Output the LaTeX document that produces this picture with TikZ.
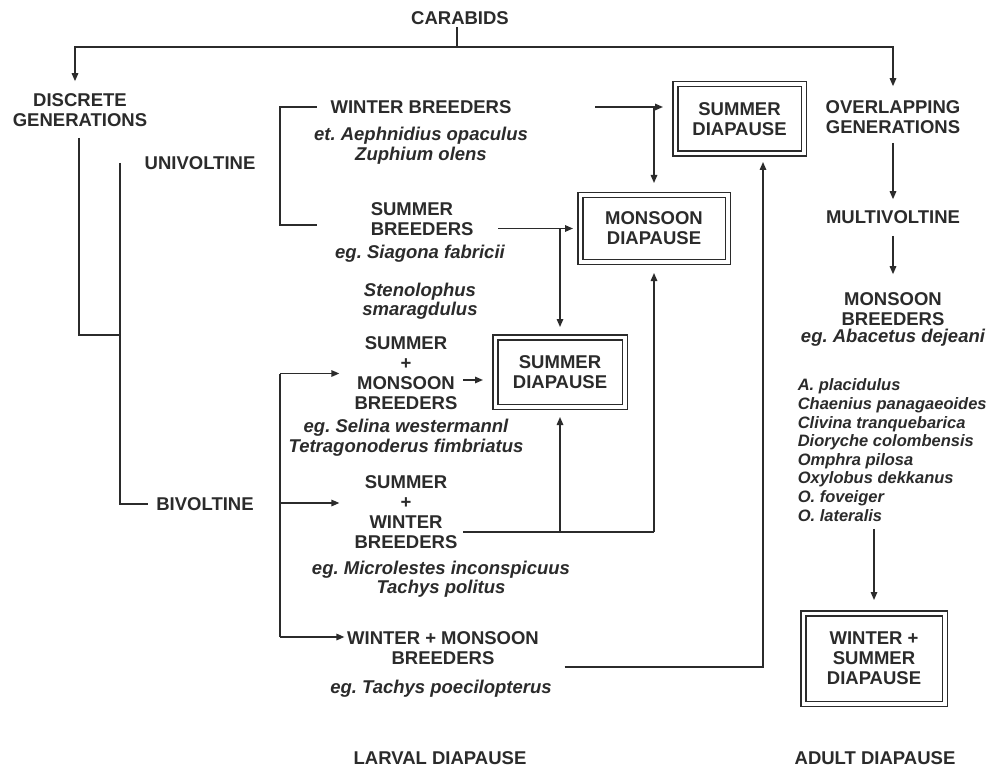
\documentclass[tikz,border=0pt]{standalone}
\usepackage{fontspec}
\setmainfont{Liberation Sans}
\usepackage{tikz}
\usetikzlibrary{arrows.meta}
\definecolor{ink}{HTML}{2B2B2B}
\frenchspacing

\begin{document}
\begin{tikzpicture}[x=1pt, y=-1pt, ink, line width=1.5pt,
  caps/.style={inner sep=2pt, align=center, font=\fontsize{18.5}{20}\selectfont\bfseries},
  spc/.style={inner sep=2pt, align=center, font=\fontsize{18.5}{19.5}\selectfont\bfseries\itshape},
  dbox/.style={draw, double, double distance=3.5pt, line width=1.5pt, outer sep=3.25pt, inner sep=0pt, align=center, font=\fontsize{18.5}{20}\selectfont\bfseries},
  arr/.style={-{Triangle[length=8pt,width=6.5pt]}}]
\fill[white] (0,0) rectangle (990,770);
\useasboundingbox (0,0) rectangle (990,770);

\node[caps] (carab) at (460,18) {CARABIDS};
\node[caps] (disc) at (80,110) {DISCRETE\\GENERATIONS};
\node[caps] (overl) at (893,117) {OVERLAPPING\\GENERATIONS};
\node[caps] (multi) at (893,217) {MULTIVOLTINE};
\node[caps] (monb) at (893,309) {MONSOON\\BREEDERS};
\node[spc] (monbeg) at (893,338) {eg. Abacetus dejeani};
\node[spc, align=left, anchor=west, font=\fontsize{16.5}{18.6}\selectfont\bfseries\itshape] (list) at (795,450) {A. placidulus\\Chaenius panagaeoides\\Clivina tranquebarica\\Dioryche colombensis\\Omphra pilosa\\Oxylobus dekkanus\\O. foveiger\\O. lateralis};
\node[caps] (univ) at (200,163) {UNIVOLTINE};
\node[caps] (bivol) at (205,504) {BIVOLTINE};
\node[caps] (wb) at (421,107) {WINTER BREEDERS};
\node[spc] (wbeg) at (421,145.5) {et. Aephnidius opaculus\\Zuphium olens};
\node[caps, align=left, anchor=west] (sb) at (368,219) {SUMMER\\BREEDERS};
\node[spc] (sbeg) at (420,254) {eg. Siagona fabricii};
\node[spc] (steno) at (420,301) {Stenolophus\\smaragdulus};
\node[caps] (smb) at (406,373.5) {SUMMER\\+\\MONSOON\\BREEDERS};
\node[spc] (smbeg) at (406,437.5) {eg. Selina westermannl\\Tetragonoderus fimbriatus};
\node[caps] (swb) at (406,512.5) {SUMMER\\+\\WINTER\\BREEDERS};
\node[spc] (swbeg) at (441,579) {eg. Microlestes inconspicuus\\Tachys politus};
\node[caps] (wmb) at (443,648.5) {WINTER + MONSOON\\BREEDERS};
\node[spc] (wmbeg) at (441,689) {eg. Tachys poecilopterus};
\node[caps] (larval) at (440,758) {LARVAL DIAPAUSE};
\node[caps] (adult) at (875,758) {ADULT DIAPAUSE};

\node[dbox, minimum width=128.5pt, minimum height=69.5pt] (sd1) at (739.5,119) {SUMMER\\DIAPAUSE};
\node[dbox, minimum width=147.5pt, minimum height=66.5pt] (md) at (654,228.5) {MONSOON\\DIAPAUSE};
\node[dbox, minimum width=129.5pt, minimum height=69.5pt] (sd2) at (560,372) {SUMMER\\DIAPAUSE};
\node[dbox, minimum width=141.5pt, minimum height=90.5pt] (ws) at (874,658.5) {WINTER +\\SUMMER\\DIAPAUSE};

\coordinate (split) at (457,47);
\coordinate (vjoin) at (121,335);
\coordinate (bv) at (280,503);
\coordinate (smbr) at ([yshift=-6.5pt]smb.east);
\coordinate (swbr) at ([yshift=-19.5pt]swb.east);
\coordinate (wmbr) at ([yshift=-18.5pt]wmb.east);
\coordinate (swbl) at ([yshift=9.5pt]swb.west);
\coordinate (wmbl) at ([yshift=11.5pt]wmb.west);

\draw (split |- carab.south) -- (split);
\draw[arr, shorten >=9.5pt] (split) -| ([xshift=-5pt]disc.north);
\draw[arr, shorten >=11.5pt] (split) -| (overl.north);
\draw[arr, shorten <=6.5pt, shorten >=8.5pt] (overl.south) -- (multi.north);
\draw[arr, shorten <=9.5pt, shorten >=15.5pt] (multi.south) -- (monb.north);
\draw[arr, shorten <=5pt, shorten >=10pt] (ws.north |- list.south) -- (ws.north);

\draw[shorten <=8.5pt] ([xshift=-1pt]disc.south) |- (vjoin);
\draw ([xshift=-22pt]univ.west) |- ([xshift=-6pt]bivol.west);
\draw ([xshift=-11pt]wb.west) -- ++(-37pt,0) |- ([xshift=-51pt,yshift=-6pt]sb.west);

\draw[arr, shorten <=81pt, shorten >=9pt] (wb.east) -- (wb.east -| sd1.west);
\draw[arr, shorten >=9pt] (wb.east -| md.north) -- (md.north);
\draw[arr, shorten <=22pt, shorten >=4pt] (sb.east |- md.west) -- (md.west);
\draw[arr, shorten >=7pt] (sd2.north |- md.west) -- (sd2.north);
\draw[arr, shorten <=3pt, shorten >=9pt] (smbr) -- (smbr -| sd2.west);
\draw[shorten <=3pt] (swbr) -- (swbr -| md.south);
\draw[arr, shorten >=7pt] (swbr -| sd2.south) -- (sd2.south);
\draw[arr, shorten >=8pt] (swbr -| md.south) -- (md.south);
\draw[arr, shorten <=23pt, shorten >=5pt] (wmbr) -| ([xshift=23.5pt]sd1.south);

\draw (bv |- smb.west) -- (bv |- wmbl);
\foreach \t/\s in {smb.west/12.5pt, swbl/12.5pt, wmbl/0pt}
  \draw[arr, shorten >=\s] (bv |- \t) -- (\t);
\end{tikzpicture}
\end{document}
